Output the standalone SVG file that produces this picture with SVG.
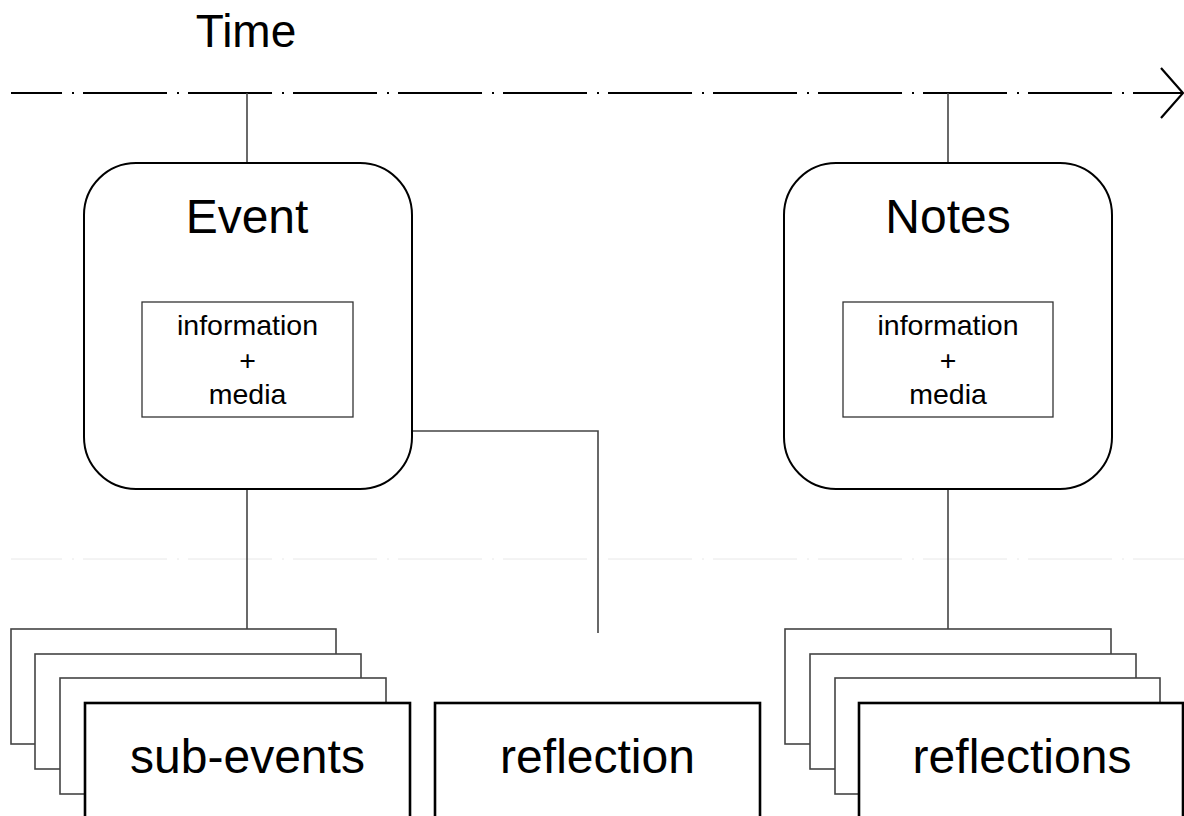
<svg xmlns="http://www.w3.org/2000/svg" width="1184" height="816" viewBox="0 0 1184 816">
<style>
  text { font-family: "Liberation Sans", Arial, sans-serif; fill: #000; text-anchor: middle; }
  .big { font-size: 48px; }
  .time { font-size: 46px; }
  .small { font-size: 28.5px; }
  .timeline { stroke: #000; stroke-width: 2.2; fill: none; stroke-dasharray: 84 10 2 9; stroke-dashoffset: 33; }
  .faint { stroke: #e8e8e8; stroke-width: 1; fill: none; stroke-dasharray: 84 10 2 9; stroke-dashoffset: 33; }
  .conn { stroke: #444; stroke-width: 1.6; fill: none; }
  .round { fill: #fff; stroke: #000; stroke-width: 2; }
  .inner { fill: #fff; stroke: #333; stroke-width: 1.3; }
  .back { fill: #fff; stroke: #444; stroke-width: 1.6; }
  .front { fill: #fff; stroke: #000; stroke-width: 2.6; }
</style>
<rect width="1184" height="816" fill="#fff"/>
<text class="time" x="246" y="47">Time</text>
<line class="faint" x1="11" y1="559" x2="1184" y2="559"/>
<g id="timeline">
  <line class="timeline" x1="11" y1="93" x2="1182" y2="93"/>
  <polyline points="1161,68 1183,93 1161,118" fill="none" stroke="#000" stroke-width="2.2"/>
</g>
<g id="connectors">
  <line class="conn" x1="247" y1="93" x2="247" y2="163"/>
  <line class="conn" x1="948" y1="93" x2="948" y2="163"/>
  <line class="conn" x1="247" y1="489" x2="247" y2="629"/>
  <line class="conn" x1="948" y1="489" x2="948" y2="629"/>
  <polyline class="conn" points="412,431 598,431 598,633"/>
</g>
<g id="event">
  <rect class="round" x="84" y="163" width="328" height="326" rx="52" ry="52"/>
  <text class="big" x="247" y="233">Event</text>
  <rect class="inner" x="142" y="302" width="211" height="115"/>
  <text class="small" x="247.5" y="335">information</text>
  <text class="small" x="247.5" y="370">+</text>
  <text class="small" x="247.5" y="404">media</text>
</g>
<g id="notes">
  <rect class="round" x="784" y="163" width="328" height="326" rx="52" ry="52"/>
  <text class="big" x="948" y="233">Notes</text>
  <rect class="inner" x="843" y="302" width="210" height="115"/>
  <text class="small" x="948" y="335">information</text>
  <text class="small" x="948" y="370">+</text>
  <text class="small" x="948" y="404">media</text>
</g>
<g id="sub-events">
  <rect class="back" x="11" y="629" width="325" height="115"/>
  <rect class="back" x="35" y="654" width="326" height="115"/>
  <rect class="back" x="60" y="678" width="326" height="116"/>
  <rect class="front" x="85" y="703" width="325" height="130"/>
  <text class="big" x="247.5" y="773">sub-events</text>
</g>
<g id="reflection">
  <rect class="front" x="435" y="703" width="325" height="130"/>
  <text class="big" x="597.5" y="773">reflection</text>
</g>
<g id="reflections">
  <rect class="back" x="785" y="629" width="326" height="115"/>
  <rect class="back" x="810" y="654" width="326" height="115"/>
  <rect class="back" x="835" y="678" width="325" height="116"/>
  <rect class="front" x="859" y="703" width="324" height="130"/>
  <text class="big" x="1022" y="773">reflections</text>
</g>
</svg>
